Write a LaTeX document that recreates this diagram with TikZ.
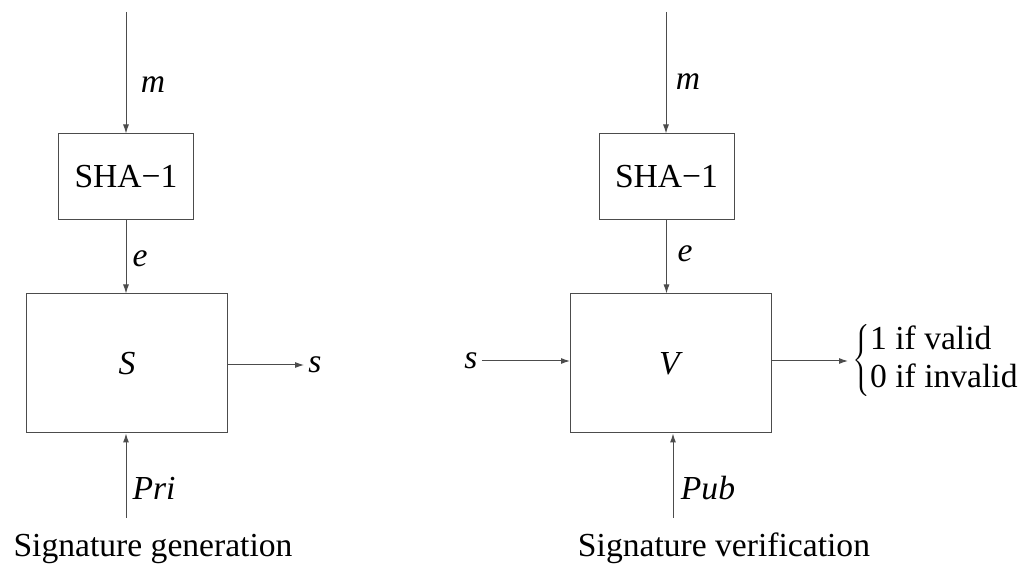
\documentclass[tikz,border=0pt]{standalone}
\usepackage{fontspec}
\setmainfont{Liberation Serif}
\usetikzlibrary{arrows.meta,positioning}
\tikzset{
	box/.style={draw=black!70,rectangle,line width=0.5pt,inner sep=0pt},
	hashbox/.style={box,minimum width=67.5pt,minimum height=43pt},
	algbox/.style={box,minimum width=100.5pt,minimum height=69.5pt},
	lbl/.style={inner sep=0pt,anchor=base,font=\itshape},
	flow/.style={draw=black!70,line width=0.5pt,-{Latex[length=4.5pt,width=3pt]}}
}

\begin{document}
\fontsize{16.8}{19}\selectfont
\begin{tikzpicture}[x=0.5pt,y=-0.5pt]
	\useasboundingbox (0,0) rectangle (1035,572);
	% signature generation
	\coordinate (min1) at (126,12);
	\node[hashbox] (sha1) at (126,177) {SHA−1};
	\node[algbox] (sig) at (127,363.5) {\textit{S}};
	\coordinate (pri) at (126,518);
	\node[lbl] (m1) at (153,93) {m};
	\node[lbl] (e1) at (140,267) {e};
	\node[inner sep=2pt,font=\itshape] (sout) at (315,365) {s};
	\node[lbl] (pk1) at (154,500) {Pri};
	\node[anchor=base] (cap1) at (153,557) {Signature generation};
	\draw[flow] (min1) -- (min1 |- sha1.north);
	\draw[flow] (sha1.south) -- (sha1.south |- sig.north);
	\draw[flow] (sig.east |- sout) -- (sout);
	\draw[flow] (pri) -- (pri |- sig.south);
	% signature verification
	\coordinate (min2) at (666,12);
	\node[hashbox] (sha2) at (666.5,177) {SHA−1};
	\node[algbox] (ver) at (671,363.5) {\textit{V}};
	\coordinate (pub) at (673,518);
	\node[lbl] (m2) at (688,90) {m};
	\node[lbl] (e2) at (685,262) {e};
	\node[inner sep=2pt,font=\itshape] (sin) at (471,361) {s};
	\node[inner sep=2pt,anchor=west] (res) at (848,361)
		{$\left\{\begin{tabular}{@{}l@{}}1 if valid\\0 if invalid\end{tabular}\right.$};
	\node[lbl] (pk2) at (708,500) {Pub};
	\node[anchor=base] (cap2) at (724,557) {Signature verification};
	\draw[flow] (min2) -- (min2 |- sha2.north);
	\draw[flow] (sha2.south) -- (sha2.south |- ver.north);
	\draw[flow] (sin) -- (sin -| ver.west);
	\draw[flow] (ver.east |- res.west) -- (res.west);
	\draw[flow] (pub) -- (pub |- ver.south);
\end{tikzpicture}
\end{document}
